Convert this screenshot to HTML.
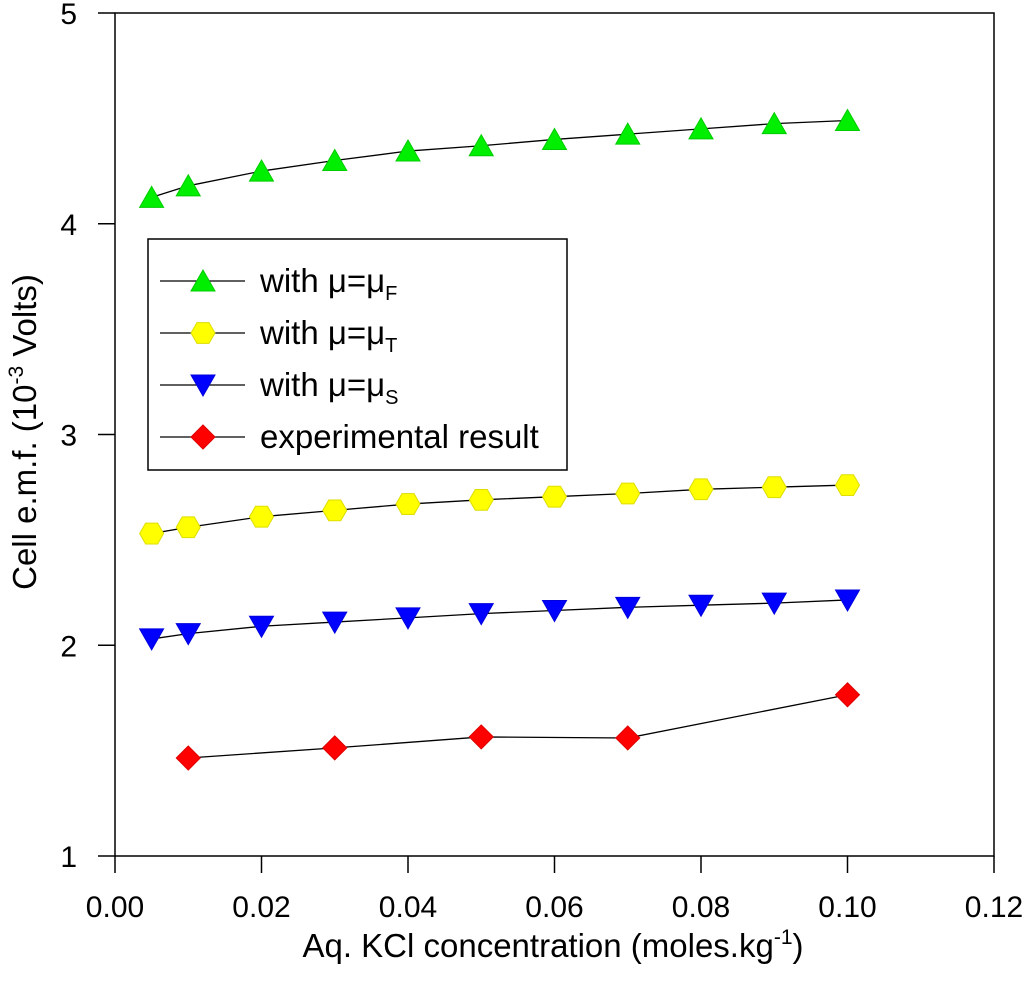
<!DOCTYPE html>
<html><head><meta charset="utf-8"><style>
body{margin:0;background:#fff}
svg{display:block;font-family:"Liberation Sans",Arial,sans-serif}
</style></head><body>
<svg id="chart" width="1024" height="987" viewBox="0 0 1024 987" xmlns="http://www.w3.org/2000/svg">
<g id="axes"></g><g id="series"></g><g id="legend"></g>
<text x="553" y="957" font-size="33" text-anchor="middle">Aq. KCl concentration (moles.kg<tspan font-size="21" dy="-13">-1</tspan><tspan dy="13">)</tspan></text>
<text transform="translate(36,432) rotate(-90)" font-size="33" text-anchor="middle">Cell e.m.f. (10<tspan font-size="21" dy="-13">-3</tspan><tspan dy="13"> Volts)</tspan></text>
</svg>
<script>
const xTicks=[0,0.02,0.04,0.06,0.08,0.10,0.12];
const xTickLabels=["0.00","0.02","0.04","0.06","0.08","0.10","0.12"];
const yTicks=[1,2,3,4,5];
const xF=[0.005,0.01,0.02,0.03,0.04,0.05,0.06,0.07,0.08,0.09,0.10];
const yF=[4.125,4.18,4.25,4.30,4.345,4.37,4.40,4.425,4.45,4.475,4.49];
const yT=[2.53,2.56,2.61,2.64,2.67,2.69,2.705,2.72,2.74,2.75,2.76];
const yS=[2.03,2.055,2.09,2.11,2.13,2.15,2.165,2.18,2.19,2.20,2.215];
const xE=[0.01,0.03,0.05,0.07,0.10];
const yE=[1.465,1.513,1.565,1.56,1.765];
const legendLabels=["with μ=μ|F","with μ=μ|T","with μ=μ|S","experimental result"];

const NS="http://www.w3.org/2000/svg";
const X0=115,X1=994,Y0=856,Y1=13;
const sx=v=>X0+(v-0)/(0.12)*(X1-X0);
const sy=v=>Y0-(v-1)/4*(Y0-Y1);
function mk(tag,attrs,parent){const e=document.createElementNS(NS,tag);for(const k in attrs)e.setAttribute(k,attrs[k]);parent.appendChild(e);return e;}
const axes=document.getElementById('axes');
let r=mk('rect',{x:X0,y:Y1,width:X1-X0,height:Y0-Y1,fill:'none',stroke:'#000','stroke-width':1.5},axes);


xTicks.forEach((t,i)=>{
  const l=mk('line',{x1:sx(t),x2:sx(t),y1:Y0,y2:Y0+17,stroke:'#000','stroke-width':1.5},axes);
  
  
  const tx=mk('text',{x:sx(t),y:Y0+61,'font-size':30,'text-anchor':'middle'},axes);tx.textContent=xTickLabels[i];
  
  
});
yTicks.forEach(t=>{
  const l=mk('line',{x1:X0-17,x2:X0,y1:sy(t),y2:sy(t),stroke:'#000','stroke-width':1.5},axes);
  
  
  const tx=mk('text',{x:X0-38,y:sy(t)+11,'font-size':30,'text-anchor':'end'},axes);tx.textContent=t;
  
  
});
function marker(type,cx,cy,g){
  let e;
  if(type==='up')e=mk('polygon',{points:`${cx},${cy-11} ${cx-12},${cy+10} ${cx+12},${cy+10}`,fill:'#00ee00',stroke:'#00cc00'},g);
  else if(type==='hex'){let p=[];for(let k=0;k<6;k++){const a=Math.PI/3*k;p.push((cx+12*Math.cos(a))+','+(cy+12*Math.sin(a)));}e=mk('polygon',{points:p.join(' '),fill:'#ffff00',stroke:'#dddd00'},g);}
  else if(type==='down')e=mk('polygon',{points:`${cx},${cy+11} ${cx-12},${cy-10} ${cx+12},${cy-10}`,fill:'#0000ff',stroke:'#0000dd'},g);
  else e=mk('polygon',{points:`${cx},${cy-12} ${cx+12},${cy} ${cx},${cy+12} ${cx-12},${cy}`,fill:'#ff0000',stroke:'#dd0000'},g);
  return e;
}
const ser=document.getElementById('series');
const defs=[[xF,yF,'up','series-mu-f'],[xF,yT,'hex','series-mu-t'],[xF,yS,'down','series-mu-s'],[xE,yE,'dia','series-experimental']];
defs.forEach(([xs,ys,type,name])=>{
  const g=mk('g',{},ser);
  
  
  const pl=mk('polyline',{points:xs.map((x,i)=>sx(x)+','+sy(ys[i])).join(' '),fill:'none',stroke:'#000','stroke-width':1.3},g);
  
  
  xs.forEach((x,i)=>{const m=marker(type,sx(x),sy(ys[i]),g);
    
    });
});
const lg=document.getElementById('legend');
const lb=mk('rect',{x:148,y:239,width:419,height:231,fill:'#fff',stroke:'#000','stroke-width':1.5},lg);


const types=['up','hex','down','dia'];
legendLabels.forEach((lab,i)=>{
  const y=281+i*52;
  const g=mk('g',{},lg);
  
  
  mk('line',{x1:160,x2:245,y1:y,y2:y,stroke:'#000','stroke-width':1.3},g);
  marker(types[i],203,y,g);
  const t=mk('text',{x:260,y:y+11,'font-size':33},g);
  const parts=lab.split('|');
  t.textContent=parts[0];
  if(parts[1]){const ts=mk('tspan',{'font-size':20,dy:8},t);ts.textContent=parts[1];}
});
</script>
</body></html>
